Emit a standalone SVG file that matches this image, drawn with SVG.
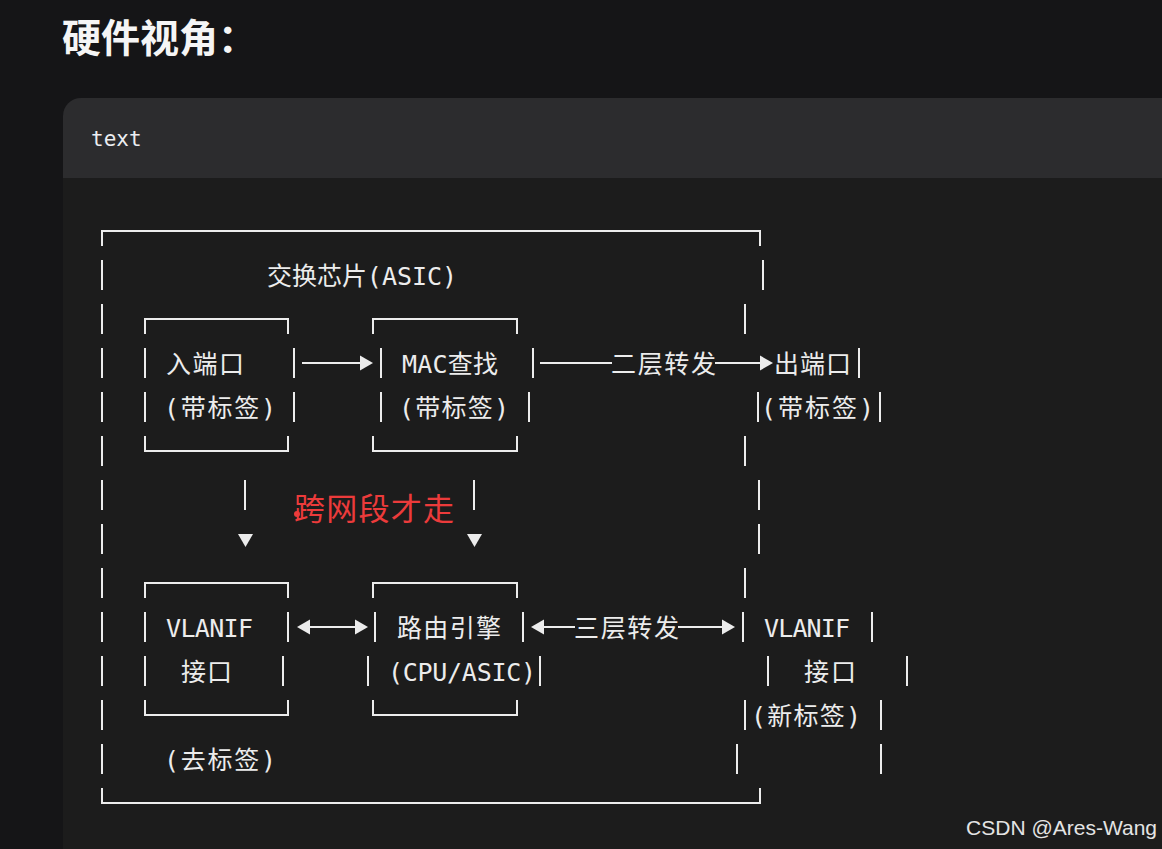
<svg xmlns="http://www.w3.org/2000/svg" width="1162" height="849" viewBox="0 0 1162 849">
<style>
.ln{stroke:#ececec;stroke-width:2;fill:none}
.ah{fill:#ececec}
.t{font-family:"DejaVu Sans Mono","Noto Sans CJK SC",monospace;font-size:25px;fill:#ececec}
.red{font-family:"Noto Sans CJK SC","Noto Sans",sans-serif;font-size:31px;fill:#ec3b3b}
</style>
<rect x="0" y="0" width="1162" height="849" fill="#151517"/>
<g id="code-block">
<path d="M63 178 V116 A18 18 0 0 1 81 98 H1170 V178 Z" fill="#2c2c2e"/>
<path d="M63 178 H1170 V860 H63 Z" fill="#1c1c1c"/>
<text x="91" y="146" font-family="DejaVu Sans Mono,monospace" font-size="21" fill="#eceef2">text</text>
</g>
<text id="title" x="62" y="52" font-family="Noto Sans CJK SC,sans-serif" font-size="39" font-weight="700" fill="#f5f5f5">硬件视角：</text>

<g id="asic-frame">
<path class="ln" d="M102 246 V231 H760 V246 M102 788 V803 H760 V788"/>
<path class="ln" d="M102 260 V290 M102 304 V334 M102 348 V378 M102 392 V422 M102 436 V466 M102 480 V510 M102 524 V554 M102 568 V598 M102 612 V642 M102 656 V686 M102 700 V730 M102 744 V774"/>
<path class="ln" d="M763 260 V290 M745 304 V334 M758 392 V422 M745 436 V466 M759 480 V510 M759 524 V554 M745 568 V598 M743 612 V642 M768 656 V686 M745 700 V730 M737 744 V774"/>
<text class="t" x="267" y="285" textLength="190" lengthAdjust="spacing">交换芯片(ASIC)</text>
</g>

<g id="ingress-port">
<path class="ln" d="M145 334 V319 H288 V334 M145 436 V451 H288 V436 M145 348 V378 M294 348 V378 M145 392 V422 M294 392 V422"/>
<text class="t" x="166" y="373" textLength="78" lengthAdjust="spacing">入端口</text>
<text class="t" x="164" y="417" textLength="112" lengthAdjust="spacing">(带标签)</text>
</g>

<g id="mac-lookup">
<path class="ln" d="M373 334 V319 H517 V334 M373 436 V451 H517 V436 M381 348 V378 M533 348 V378 M381 392 V422 M529 392 V422"/>
<text class="t" x="402" y="373" textLength="96" lengthAdjust="spacing">MAC查找</text>
<text class="t" x="399" y="417" textLength="110" lengthAdjust="spacing">(带标签)</text>
</g>

<g id="egress-port">
<path class="ln" d="M859 348 V378 M880 392 V422"/>
<text class="t" x="774" y="373" textLength="77" lengthAdjust="spacing">出端口</text>
<text class="t" x="761" y="417" textLength="113" lengthAdjust="spacing">(带标签)</text>
</g>

<g id="vlanif-in">
<path class="ln" d="M145 598 V583 H288 V598 M145 700 V715 H288 V700 M145 612 V642 M288 612 V642 M145 656 V686 M283 656 V686"/>
<text class="t" x="166" y="637" textLength="87" lengthAdjust="spacing">VLANIF</text>
<text class="t" x="181" y="681" textLength="51" lengthAdjust="spacing">接口</text>
<text class="t" x="164" y="769" textLength="112" lengthAdjust="spacing">(去标签)</text>
</g>

<g id="routing-engine">
<path class="ln" d="M373 598 V583 H517 V598 M373 700 V715 H517 V700 M375 612 V642 M523 612 V642 M368 656 V686 M540 656 V686"/>
<text class="t" x="397" y="637" textLength="104" lengthAdjust="spacing">路由引擎</text>
<text class="t" x="388" y="681" textLength="148" lengthAdjust="spacing">(CPU/ASIC)</text>
</g>

<g id="vlanif-out">
<path class="ln" d="M872 612 V642 M907 656 V686 M881 700 V730 M881 744 V774"/>
<text class="t" x="764" y="637" textLength="86" lengthAdjust="spacing">VLANIF</text>
<text class="t" x="804" y="681" textLength="52" lengthAdjust="spacing">接口</text>
<text class="t" x="751" y="725" textLength="110" lengthAdjust="spacing">(新标签)</text>
</g>

<g id="connectors">
<path class="ln" d="M302 363 H361"/>
<polygon class="ah" points="360,355.5 373,363 360,370.5"/>
<path class="ln" d="M540 363 H612 M715 363 H761"/>
<polygon class="ah" points="760,355.5 773,363 760,370.5"/>
<text class="t" x="611" y="373" textLength="105" lengthAdjust="spacing">二层转发</text>
<path class="ln" d="M309 627 H356"/>
<polygon class="ah" points="310,619.5 297,627 310,634.5"/>
<polygon class="ah" points="355,619.5 368,627 355,634.5"/>
<path class="ln" d="M543 627 H575 M678 627 H723"/>
<polygon class="ah" points="544,619.5 531,627 544,634.5"/>
<polygon class="ah" points="722,619.5 735,627 722,634.5"/>
<text class="t" x="574" y="637" textLength="105" lengthAdjust="spacing">三层转发</text>
<path class="ln" d="M245 480 V510 M474 480 V510"/>
<polygon class="ah" points="238,534 253,534 245.5,547"/>
<polygon class="ah" points="467,534 482,534 474.5,547"/>
<text class="red" x="294" y="520" textLength="160" lengthAdjust="spacing">跨网段才走</text>
<circle cx="297" cy="514" r="3" fill="#ec3b3b"/>
</g>

<text id="watermark" x="1157" y="835" text-anchor="end" font-family="Liberation Sans,Arial,sans-serif" font-size="21" fill="#e4e4e4">CSDN @Ares-Wang</text>
</svg>
